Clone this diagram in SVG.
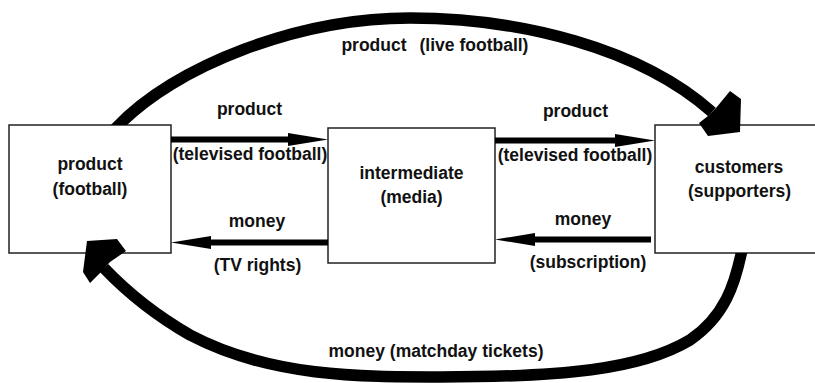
<svg xmlns="http://www.w3.org/2000/svg" width="815" height="383" viewBox="0 0 815 383">
<style>
.box{fill:#fff;stroke:#222;stroke-width:1.5}
.lbl{font-family:"Liberation Sans",Arial,sans-serif;font-weight:bold;font-size:17.5px;fill:#111;text-anchor:middle}
.arc{fill:none;stroke:#000;stroke-width:11.5}
.shaft{fill:none;stroke:#000;stroke-width:6;marker-end:url(#head)}
.big{fill:#000}
</style>
<defs>
<marker id="head" markerUnits="userSpaceOnUse" viewBox="0 0 40 13" markerWidth="40" markerHeight="13" refX="5" refY="6.5" orient="auto">
<path d="M0,0 L40,6.5 L0,13 Z" fill="#000"/>
</marker>
<clipPath id="clipTop"><rect x="0" y="0" width="815" height="125"/></clipPath>
<clipPath id="clipBot"><rect x="0" y="253" width="815" height="130"/></clipPath>
</defs>
<rect width="815" height="383" fill="#fff"/>
<g id="node-product">
<rect class="box" x="9" y="125" width="162" height="128"/>
<text class="lbl" x="90" y="170">product</text>
<text class="lbl" x="90" y="195">(football)</text>
</g>
<g id="node-intermediate">
<rect class="box" x="328" y="128" width="167" height="135"/>
<text class="lbl" x="411.5" y="179">intermediate</text>
<text class="lbl" x="411.5" y="203">(media)</text>
</g>
<g id="node-customers">
<rect class="box" x="655" y="125" width="170" height="128"/>
<text class="lbl" x="739" y="173">customers</text>
<text class="lbl" x="739.5" y="196.5">(supporters)</text>
</g>
<g id="connectors">
<path class="arc" clip-path="url(#clipTop)" d="M110,136 L116,128 C175,65 300,18 410,18 C520,18 640,48 712,112"/>
<polygon class="big" points="730,91 741,99 740,132 708,136 699,123 708,116 716,108"/>
<path class="arc" clip-path="url(#clipBot)" d="M743,242 L742,250 C735,284 725,316 690,340 C640,370 560,377 440,377 C360,377 270,377 190,335 C150,312 125,290 104,268"/>
<polygon class="big" points="87,241 117,239 126,251 110,262 100,273 90,283 83,272"/>
<path class="shaft" d="M171,139.5 H293"/>
<path class="shaft" d="M495,140.5 H620"/>
<path class="shaft" d="M328,242.5 H206"/>
<path class="shaft" d="M651,239.5 H530"/>
<text class="lbl" y="51"><tspan x="374">product</tspan><tspan x="474">(live football)</tspan></text>
<text class="lbl" x="249.5" y="115">product</text>
<text class="lbl" x="250" y="159.5">(televised football)</text>
<text class="lbl" x="575.5" y="117">product</text>
<text class="lbl" x="575" y="161">(televised football)</text>
<text class="lbl" x="257" y="226.5">money</text>
<text class="lbl" x="257.5" y="271">(TV rights)</text>
<text class="lbl" x="583" y="224.5">money</text>
<text class="lbl" x="588" y="268">(subscription)</text>
<text class="lbl" x="436" y="357">money (matchday tickets)</text>
</g>
</svg>
